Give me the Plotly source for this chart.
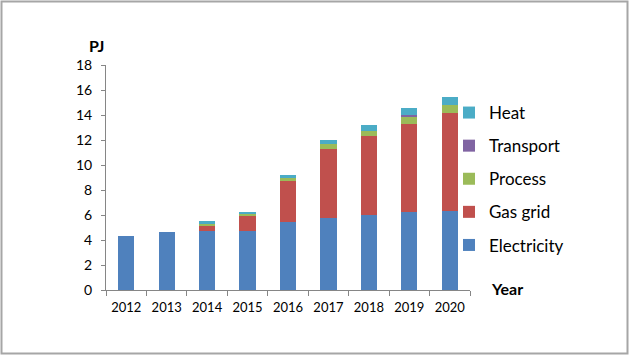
import plotly.graph_objects as go

years = ["2012", "2013", "2014", "2015", "2016", "2017", "2018", "2019", "2020"]
electricity = [4.35, 4.63, 4.71, 4.72, 5.48, 5.77, 6.04, 6.22, 6.30]
gas_grid = [0, 0, 0.39, 1.21, 3.22, 5.48, 6.25, 7.10, 7.83]
process = [0, 0, 0.17, 0.16, 0.26, 0.40, 0.42, 0.55, 0.66]
transport = [0, 0, 0, 0, 0, 0, 0, 0.12, 0]
heat = [0, 0, 0.29, 0.19, 0.27, 0.35, 0.48, 0.55, 0.67]
y_ticks = [0, 2, 4, 6, 8, 10, 12, 14, 16, 18]

series = [
    ("Electricity", electricity, "#4F81BD"),
    ("Gas grid", gas_grid, "#C0504D"),
    ("Process", process, "#9BBB59"),
    ("Transport", transport, "#8064A2"),
    ("Heat", heat, "#4BACC6"),
]

W, H = 630, 356
ml, mr, mt, mb = 106, 160, 65, 66
pw, ph = W - ml - mr, H - mt - mb


def px_x(p):
    return (p - ml) / pw


def px_y(p):
    return (H - mb - p) / ph


fig = go.Figure()
for i, (name, vals, col) in enumerate(series):
    fig.add_trace(go.Bar(
        x=years, y=vals, name=name, legendgroup=name,
        legendrank=1000 - i,
        marker=dict(color=col, line=dict(width=0)),
    ))

axis_col = "#868686"
font_family = "Lato, 'Open Sans', sans-serif"

fig.update_layout(
    width=W, height=H,
    margin=dict(l=ml, r=mr, t=mt, b=mb),
    barmode="stack", bargap=0.6,
    plot_bgcolor="white", paper_bgcolor="white",
    font=dict(family=font_family, size=13, color="#000000"),
    showlegend=True,
    legend=dict(
        traceorder="grouped", tracegroupgap=8,
        x=px_x(449), xanchor="left",
        y=px_y(95), yanchor="top",
        font=dict(size=17, family=font_family),
        bgcolor="rgba(0,0,0,0)", itemwidth=30,
    ),
    xaxis=dict(
        type="category", showline=True, linecolor=axis_col, linewidth=1,
        ticks="outside", ticklen=5, tickcolor=axis_col, tickson="boundaries",
        showgrid=False, tickfont=dict(size=13), ticklabelstandoff=5,
    ),
    yaxis=dict(
        range=[0, 18], tickvals=y_ticks, showline=True, linecolor=axis_col,
        linewidth=1, ticks="outside", ticklen=4, tickcolor=axis_col,
        showgrid=False, zeroline=False, tickfont=dict(size=14),
        ticklabelstandoff=6,
    ),
    annotations=[
        dict(text="<b>PJ</b>", xref="paper", yref="paper",
             x=px_x(97), y=px_y(45),
             showarrow=False, font=dict(size=16), xanchor="center", yanchor="middle"),
        dict(text="<b>Year</b>", xref="paper", yref="paper",
             x=px_x(507), y=px_y(288),
             showarrow=False, font=dict(size=16), xanchor="center", yanchor="middle"),
    ],
    shapes=[
        dict(type="rect", xref="paper", yref="paper",
             x0=px_x(1.5), x1=px_x(W - 2.5),
             y0=px_y(1.5), y1=px_y(H - 2.5),
             line=dict(color="#A6A6A6", width=2), fillcolor="rgba(0,0,0,0)",
             layer="below"),
    ],
)

fig.write_html(
    "out.html",
    config={"displayModeBar": False},
    post_script="document.body.style.margin='0';document.body.style.overflow='hidden';",
)
